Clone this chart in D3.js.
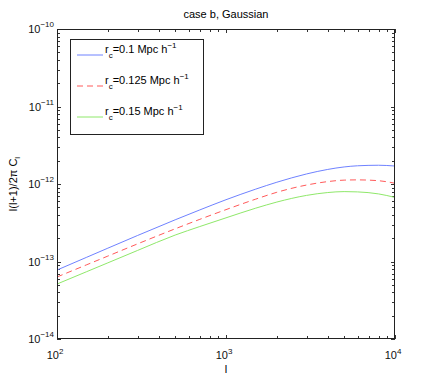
<!DOCTYPE html>
<html>
<head>
<meta charset="utf-8">
<script src="https://cdn.jsdelivr.net/npm/d3@7"></script>
<style>
  body { margin: 0; background: #fff; }
  svg { font-family: "Liberation Sans", Arial, sans-serif; }
</style>
</head>
<body>
<svg id="chart" width="436" height="382"></svg>
<script>
const ells = [100, 150, 200, 300, 500, 700, 1000, 1500, 2000, 3000, 4000, 5000, 6000, 8000, 10000];
const rc010 = [7.76e-14, 1.135e-13, 1.486e-13, 2.168e-13, 3.45e-13, 4.63e-13, 6.27e-13, 8.59e-13, 1.054e-12, 1.349e-12, 1.542e-12, 1.66e-12, 1.718e-12, 1.746e-12, 1.706e-12];
const rc0125 = [6.31e-14, 9.08e-14, 1.175e-13, 1.69e-13, 2.64e-13, 3.50e-13, 4.67e-13, 6.38e-13, 7.82e-13, 9.70e-13, 1.074e-12, 1.122e-12, 1.130e-12, 1.102e-12, 1.023e-12];
const rc015 = [5.12e-14, 7.40e-14, 9.61e-14, 1.390e-13, 2.193e-13, 2.825e-13, 3.66e-13, 4.88e-13, 5.85e-13, 7.13e-13, 7.76e-13, 7.98e-13, 7.91e-13, 7.45e-13, 6.71e-13];
const xDecades = [2, 3, 4];
const yDecades = [-14, -13, -12, -11, -10];
const legendLabels = ['0.1', '0.125', '0.15'];

const series = [
  { values: rc010, color: '#6f82ff', dash: null },
  { values: rc0125, color: '#ff5a5a', dash: '6,4' },
  { values: rc015, color: '#8fe86a', dash: null }
];

const svg = d3.select('#chart');
const mLeft = 57, mRight = 395, mTop = 29, mBottom = 339;

const x = d3.scaleLog().domain([1e2, 1e4]).range([mLeft, mRight]);
const y = d3.scaleLog().domain([1e-14, 1e-10]).range([mBottom, mTop]);

// minor + major ticks
const xMinor = [], yMinor = [];
for (let e = 2; e < 4; e++) for (let m = 2; m < 10; m++) xMinor.push(m * Math.pow(10, e));
for (let e = -14; e < -10; e++) for (let m = 2; m < 10; m++) yMinor.push(m * Math.pow(10, e));

const ticks = svg.append('g').attr('stroke', '#333').attr('stroke-width', 1);
const tickLines = (vals, len, isX) => {
  vals.forEach(v => {
    if (isX) {
      const px = Math.round(x(v)) + 0.5;
      ticks.append('line').attr('x1', px).attr('x2', px).attr('y1', mBottom).attr('y2', mBottom - len);
      ticks.append('line').attr('x1', px).attr('x2', px).attr('y1', mTop).attr('y2', mTop + len);
    } else {
      const py = Math.round(y(v)) + 0.5;
      ticks.append('line').attr('y1', py).attr('y2', py).attr('x1', mLeft).attr('x2', mLeft + len);
      ticks.append('line').attr('y1', py).attr('y2', py).attr('x1', mRight).attr('x2', mRight - len);
    }
  });
};
tickLines(xMinor, 3, true);
tickLines(xDecades.map(e => Math.pow(10, e)), 4, true);
tickLines(yMinor, 3, false);
tickLines(yDecades.map(e => Math.pow(10, e)), 4, false);

// curves
const line = d3.line()
  .x((d, i) => x(ells[i]))
  .y(d => y(d))
  .curve(d3.curveMonotoneX);

series.forEach(s => {
  svg.append('path')
    .datum(s.values)
    .attr('fill', 'none')
    .attr('stroke', s.color)
    .attr('stroke-width', 1)
    .attr('stroke-dasharray', s.dash)
    .attr('d', line);
});

// frame
svg.append('rect')
  .attr('x', mLeft + 0.5).attr('y', mTop + 0.5)
  .attr('width', mRight - mLeft - 1).attr('height', mBottom - mTop - 1)
  .attr('fill', 'none').attr('stroke', '#222').attr('stroke-width', 1);

// tick labels
xDecades.forEach(e => {
  const t = svg.append('text')
    .attr('x', x(Math.pow(10, e)) - 2)
    .attr('y', 359)
    .attr('text-anchor', 'middle')
    .attr('font-size', 11)
    .attr('fill', '#111');
  t.append('tspan').text('10');
  t.append('tspan').attr('dy', -5).attr('font-size', 8).text(e);
});
yDecades.forEach(e => {
  const t = svg.append('text')
    .attr('x', 54)
    .attr('y', y(Math.pow(10, e)) + 4)
    .attr('text-anchor', 'end')
    .attr('font-size', 11)
    .attr('fill', '#111');
  t.append('tspan').text('10');
  t.append('tspan').attr('dy', -6).attr('font-size', 8).text('\u2212' + Math.abs(e));
});

// title and axis labels
svg.append('text')
  .attr('x', 226).attr('y', 18)
  .attr('text-anchor', 'middle')
  .attr('font-size', 11)
  .text('case b, Gaussian');

svg.append('text')
  .attr('x', 226).attr('y', 373)
  .attr('text-anchor', 'middle')
  .attr('font-size', 11)
  .text('l');

const yl = svg.append('text')
  .attr('transform', 'translate(17,184) rotate(-90)')
  .attr('text-anchor', 'middle')
  .attr('font-size', 11);
yl.append('tspan').text('l(l+1)/2\u03c0 C');
yl.append('tspan').attr('dy', 3).attr('font-size', 8).text('l');

// legend
svg.append('rect')
  .attr('x', 70.5).attr('y', 39.5)
  .attr('width', 133).attr('height', 95)
  .attr('fill', '#fff').attr('stroke', '#222').attr('stroke-width', 1);

series.forEach((s, i) => {
  const ly = 55 + i * 31;
  svg.append('line')
    .attr('x1', 77).attr('x2', 103)
    .attr('y1', ly).attr('y2', ly)
    .attr('stroke', s.color)
    .attr('stroke-dasharray', s.dash);
  const t = svg.append('text')
    .attr('x', 105).attr('y', ly - 2)
    .attr('font-size', 11);
  t.append('tspan').text('r');
  t.append('tspan').attr('dy', 5).attr('font-size', 8).text('c');
  t.append('tspan').attr('dy', -5).text('=' + legendLabels[i] + ' Mpc h');
  t.append('tspan').attr('dy', -5).attr('font-size', 8).text('\u22121');
});
</script>
</body>
</html>
